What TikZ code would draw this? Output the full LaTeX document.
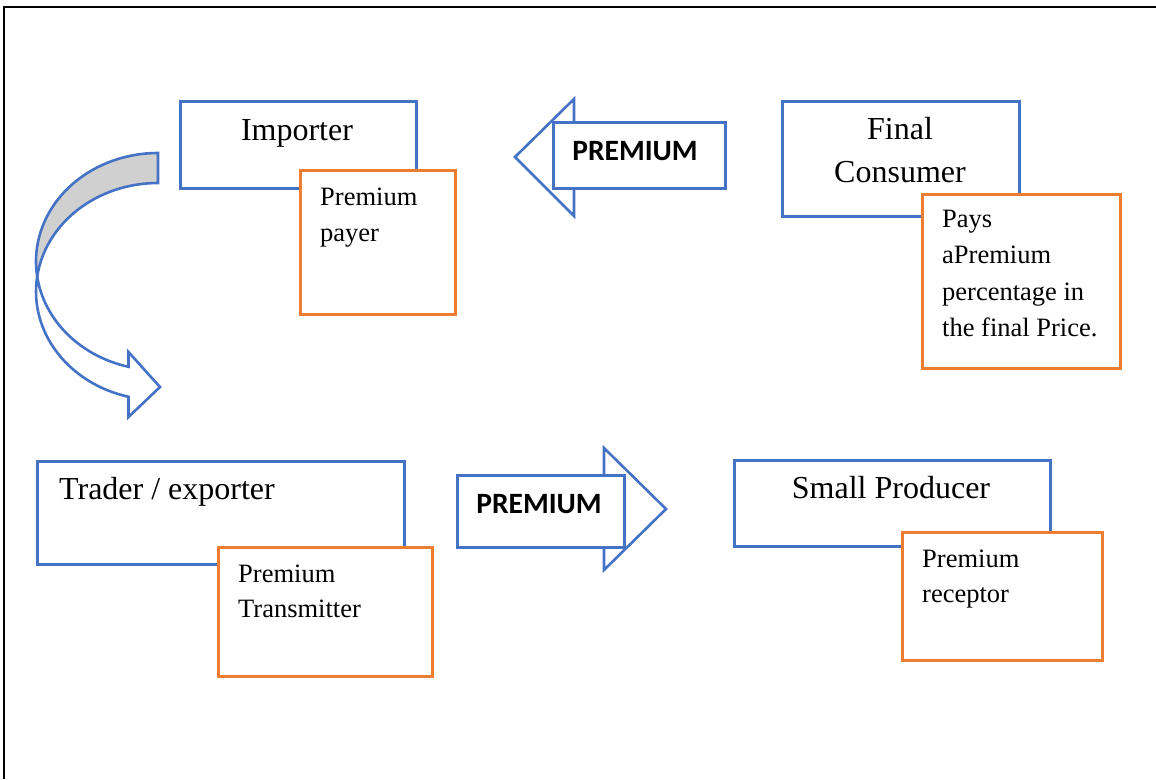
\documentclass[tikz,border=0pt]{standalone}
\usepackage{fontspec}
\setmainfont{Liberation Serif}
\newfontfamily\calib{Carlito}
\usetikzlibrary{calc}
\definecolor{bl}{HTML}{4472C4}
\definecolor{org}{HTML}{ED7D31}
\definecolor{shade}{HTML}{D0D0D0}
\begin{document}
\begin{tikzpicture}[x=1pt,y=-1pt,
  bluebox/.style={draw=bl, line width=2.6pt, fill=white, rectangle, inner sep=0pt, anchor=north west},
  orgbox/.style={draw=org, line width=3pt, fill=white, rectangle, inner sep=0pt, anchor=north west},
  bigtxt/.style={font=\fontsize{32}{43}\selectfont, inner sep=0pt},
  smalltxt/.style={font=\fontsize{26.5}{36}\selectfont, inner sep=0pt, anchor=base west},
  premtxt/.style={font=\calib\bfseries\fontsize{29.5}{34}\selectfont, inner sep=0pt, anchor=base},
  blueline/.style={draw=bl, line width=2.6pt, line join=miter}
]
\useasboundingbox (0,0) rectangle (1156,779);
% frame
\draw[line width=2.4pt] (4,779) -- (4,7) -- (1156,7);

% curved arrow
\filldraw[blueline, fill=shade] (158,153)
  arc[start angle=-90, end angle=-187.95, x radius=122, y radius=108.5]
  arc[start angle=-172.05, end angle=-90, x radius=122, y radius=108.5] -- cycle;
\filldraw[blueline, fill=white] (37.2,276.5)
  arc[start angle=-172.05, end angle=-256, x radius=122, y radius=108.5]
  -- (128.5,417) -- (160,387) -- (128.5,352) -- (128.5,366.8)
  arc[start angle=-256, end angle=-187.95, x radius=122, y radius=108.5] -- cycle;

% Importer
\node[bluebox, minimum width=236pt, minimum height=87pt] (imp) at (179,100) {};
\node[bigtxt, anchor=base] (impT) at (297,140) {Importer};
\node[orgbox, minimum width=155pt, minimum height=144pt] (impO) at (299,169) {};
\node[smalltxt] (impO1) at (320,205) {Premium};
\node[smalltxt] (impO2) at (320,241.5) {payer};

% left PREMIUM arrow
\filldraw[blueline, fill=white] (515,157) -- (574,99) -- (574,126) -- (718,126) -- (718,182) -- (574,182) -- (574,216) -- cycle;
\node[bluebox, minimum width=172pt, minimum height=66pt] (pL) at (552,121) {};
\node[premtxt] (pLT) at (635,160) {PREMIUM};

% Final Consumer
\node[bluebox, minimum width=237pt, minimum height=115pt] (fc) at (781,100) {};
\node[bigtxt, anchor=base] (fcT1) at (900,139.5) {Final};
\node[bigtxt, anchor=base] (fcT2) at (900,182.5) {Consumer};
\node[orgbox, minimum width=198pt, minimum height=174pt] (fcO) at (921,193) {};
\node[smalltxt] (fcO1) at (942,227) {Pays};
\node[smalltxt] (fcO2) at (942,263.5) {aPremium};
\node[smalltxt] (fcO3) at (942,300) {percentage in};
\node[smalltxt] (fcO4) at (942,336.5) {the final Price.};

% Trader / exporter
\node[bluebox, minimum width=367pt, minimum height=103pt] (tr) at (36,460) {};
\node[bigtxt, anchor=base west] (trT) at (59,499) {Trader / exporter};
\node[orgbox, minimum width=214pt, minimum height=129pt] (trO) at (217,546) {};
\node[smalltxt] (trO1) at (238,582) {Premium};
\node[smalltxt] (trO2) at (238,617) {Transmitter};

% right PREMIUM arrow
\filldraw[blueline, fill=white] (462,479) -- (604,479) -- (604,448) -- (666,509) -- (604,570) -- (604,541) -- (462,541) -- cycle;
\node[bluebox, minimum width=167pt, minimum height=72pt] (pR) at (456,474) {};
\node[premtxt] (pRT) at (539,513) {PREMIUM};

% Small Producer
\node[bluebox, minimum width=316pt, minimum height=86pt] (sp) at (733,459) {};
\node[bigtxt, anchor=base] (spT) at (891,498) {Small Producer};
\node[orgbox, minimum width=200pt, minimum height=128pt] (spO) at (901,531) {};
\node[smalltxt] (spO1) at (922,567) {Premium};
\node[smalltxt] (spO2) at (922,602.5) {receptor};
\end{tikzpicture}
\end{document}
